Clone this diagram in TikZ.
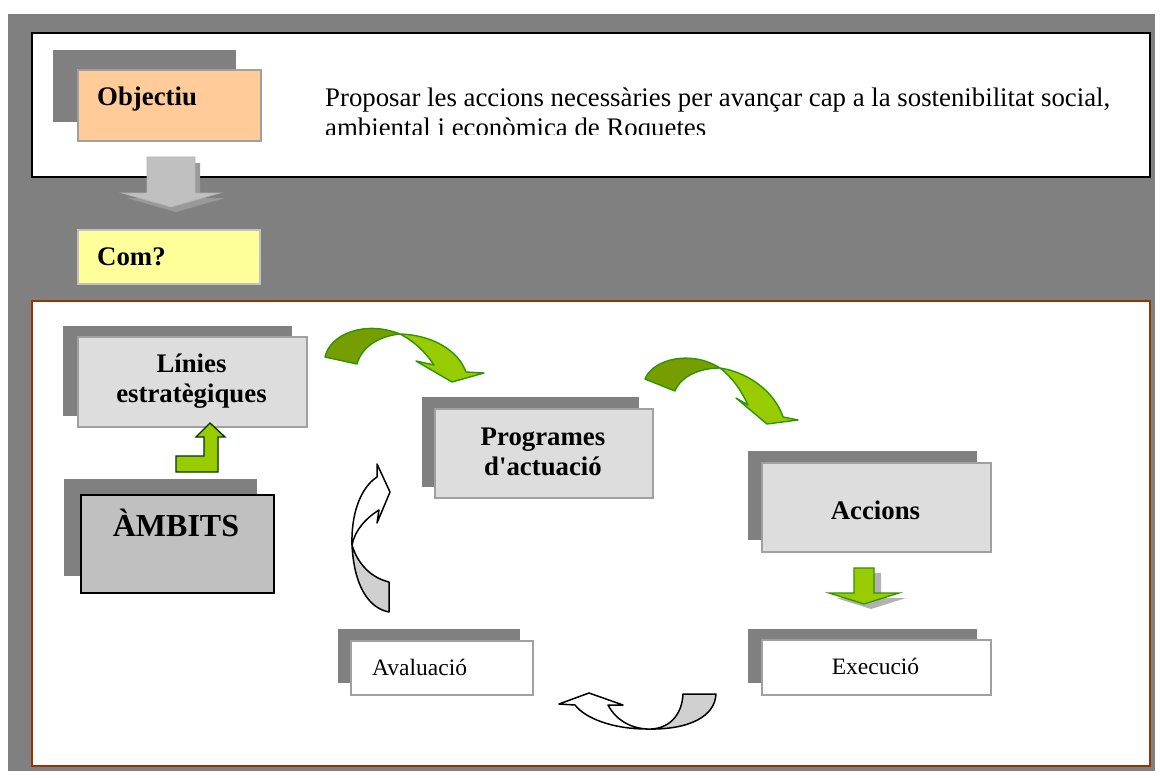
\documentclass[tikz,border=0pt]{standalone}
\usepackage{fontspec}
\setmainfont{Liberation Serif}[Ligatures=TeXOff]
\definecolor{bggray}{HTML}{808080}
\definecolor{shgray}{HTML}{808080}
\definecolor{peach}{HTML}{FFCC99}
\definecolor{paleyellow}{HTML}{FFFF99}
\definecolor{boxgray}{HTML}{DDDDDD}
\definecolor{edgegray}{HTML}{A0A0A0}
\definecolor{ambgray}{HTML}{C0C0C0}
\definecolor{brown}{HTML}{993300}
\definecolor{lgreen}{HTML}{99CC00}
\definecolor{dgreen}{HTML}{779E00}
\definecolor{ogreen}{HTML}{2F9400}
\definecolor{twistgray}{HTML}{D0D0D0}
\tikzset{
  frontbox/.style={draw=edgegray, line width=1.8pt, inner sep=0pt, anchor=north west},
  label26/.style={font=\fontsize{26.8}{30}\selectfont\bfseries, inner sep=0pt, align=center},
  plain26/.style={font=\fontsize{26.8}{30}\selectfont, inner sep=0pt},
  small24/.style={font=\fontsize{23.5}{28}\selectfont, inner sep=0pt},
  shadowbox/.style={fill=shgray},
  greenarrow/.style={draw=ogreen, line width=1.4pt, line join=round},
  whitearrow/.style={draw=black, line width=1.5pt, line join=round},
}
\begin{document}
\begin{tikzpicture}[x=1pt,y=-1pt]
\useasboundingbox (0,0) rectangle (1160,777);
\fill[white] (0,0) rectangle (1160,777);
\fill[bggray] (8,14) rectangle (1155,771);

% top box
\node[draw=black, line width=2pt, fill=white, minimum width=1118, minimum height=144, inner sep=0pt, anchor=north west] (topbox) at (31,32) {};
% lower box
\node[draw=brown, line width=2pt, fill=white, minimum width=1118, minimum height=465, inner sep=0pt, anchor=north west] (lowbox) at (31,300) {};

% Objectiu
\fill[shadowbox] (53,50) rectangle (236,122);
\node[frontbox, fill=peach, minimum width=183, minimum height=71] (obj) at (77,69) {};
\node[label26, anchor=base west] (objt) at (97,105) {Objectiu};

% goal text (clipped)
\begin{scope}
\clip (33,34) rectangle (1147,134);
\node[plain26, anchor=base west] (goal1) at (325,106) {Proposar les accions necessàries per avançar cap a la sostenibilitat social,};
\node[plain26, anchor=base west] (goal2) at (325,136) {ambiental i econòmica de Roquetes};
\end{scope}

% gray down arrow
\fill[fill=black!40] (152,163) -- (200,163) -- (200,198) -- (225,198) -- (176,212) -- (127,198) -- (152,198) -- cycle;
\path[fill=ambgray, draw=black!30, line width=0.8pt] (147,157) -- (195,157) -- (195,193) -- (220,193) -- (171,207) -- (122,193) -- (147,193) -- cycle;

% Com?
\node[frontbox, draw=ambgray, fill=paleyellow, minimum width=182, minimum height=54] (com) at (77,229) {};
\node[label26, anchor=base west] (comt) at (97,265) {Com?};

% Linies estrategiques
\fill[shadowbox] (63,326) rectangle (292,416);
\node[frontbox, fill=boxgray, minimum width=229, minimum height=90] (lin) at (77,336) {};
\node[label26] (lint) at (191.5,381) {Línies\\estratègiques};

% AMBITS
\fill[shadowbox] (64,479) rectangle (257,576);
\node[frontbox, draw=black, line width=1.5pt, fill=ambgray, minimum width=193, minimum height=98] (amb) at (80,494) {};
\node[font=\fontsize{32}{36}\selectfont\bfseries, inner sep=0pt, anchor=base] (ambt) at (176,536) {ÀMBITS};

% green L arrow
\path[fill=lgreen, draw=black!80!green, line width=1.3pt, line join=miter]
  (176,456) -- (204,456) -- (204,437) -- (196,437) -- (210,423) -- (225,437) -- (218,437) -- (218,472) -- (176,472) -- cycle;

% Programes
\fill[shadowbox] (422,397) rectangle (639,487);
\node[frontbox, fill=boxgray, minimum width=218, minimum height=89] (prog) at (434,408) {};
\node[label26] (progt) at (543,452) {Programes\\d'actuació};

% Accions
\fill[shadowbox] (748,451) rectangle (977,540);
\node[frontbox, fill=boxgray, minimum width=229, minimum height=89] (acc) at (761,462) {};
\node[label26, anchor=base] (acct) at (875.5,519) {Accions};

% Execucio
\fill[shadowbox] (748,629) rectangle (977,683);
\node[frontbox, fill=white, minimum width=229, minimum height=55] (exe) at (761,639) {};
\node[small24, anchor=base] (exet) at (875.5,674) {Execució};

% Avaluacio
\fill[shadowbox] (338,629) rectangle (520,683);
\node[frontbox, fill=white, minimum width=182, minimum height=54] (ava) at (350,640) {};
\node[small24, anchor=base west] (avat) at (372,675) {Avaluació};

% green down arrow
\fill[black!30] (861,573) -- (881,573) -- (881,598) -- (906,598) -- (871,609) -- (836,598) -- (861,598) -- cycle;
\path[fill=lgreen, draw=ogreen, line width=1.3pt, line join=miter]
  (854,568) -- (874,568) -- (874,593) -- (899,593) -- (864,604) -- (829,593) -- (854,593) -- cycle;

% green curved arrow 1
\path[greenarrow, fill=dgreen]
  (325,357) .. controls (330,334) and (365,320) .. (400,334)
  .. controls (380,336) and (362,346) .. (357,364) -- cycle;
\path[greenarrow, fill=lgreen]
  (400,334) .. controls (432,335) and (458,350) .. (466,372)
  -- (484,373) -- (452,382) -- (416,361) -- (434,365)
  .. controls (424,350) and (412,340) .. (400,334) -- cycle;

% green curved arrow 2
\path[greenarrow, fill=dgreen]
  (645,379) .. controls (652,360) and (690,349) .. (720,368)
  .. controls (700,368) and (681,376) .. (675,391) -- cycle;
\path[greenarrow, fill=lgreen]
  (720,368) .. controls (752,373) and (776,395) .. (783,417)
  -- (798,420) -- (767,424) -- (736,398) -- (748,405)
  .. controls (741,390) and (732,377) .. (720,368) -- cycle;

% white curved arrow (left, upward)
\path[whitearrow, fill=twistgray]
  (352,545) .. controls (354,585) and (368,608) .. (389,612)
  -- (389,582) .. controls (372,578) and (358,565) .. (352,545) -- cycle;
\path[whitearrow, fill=white]
  (352,545) .. controls (351,515) and (360,488) .. (377,477)
  -- (377,464) -- (390,492) -- (377,523) -- (379,510)
  .. controls (366,518) and (355,530) .. (352,545) -- cycle;

% white curved arrow (bottom, leftward)
\path[whitearrow, fill=twistgray]
  (647,729) .. controls (668,730) and (682,716) .. (683,694)
  -- (716,694) .. controls (715,716) and (690,730) .. (647,729) -- cycle;
\path[whitearrow, fill=white]
  (647,729) .. controls (612,729) and (585,718) .. (575,705)
  -- (559,704) -- (589,693) -- (623,705) -- (608,705)
  .. controls (616,720) and (630,728) .. (647,729) -- cycle;
\end{tikzpicture}
\end{document}
